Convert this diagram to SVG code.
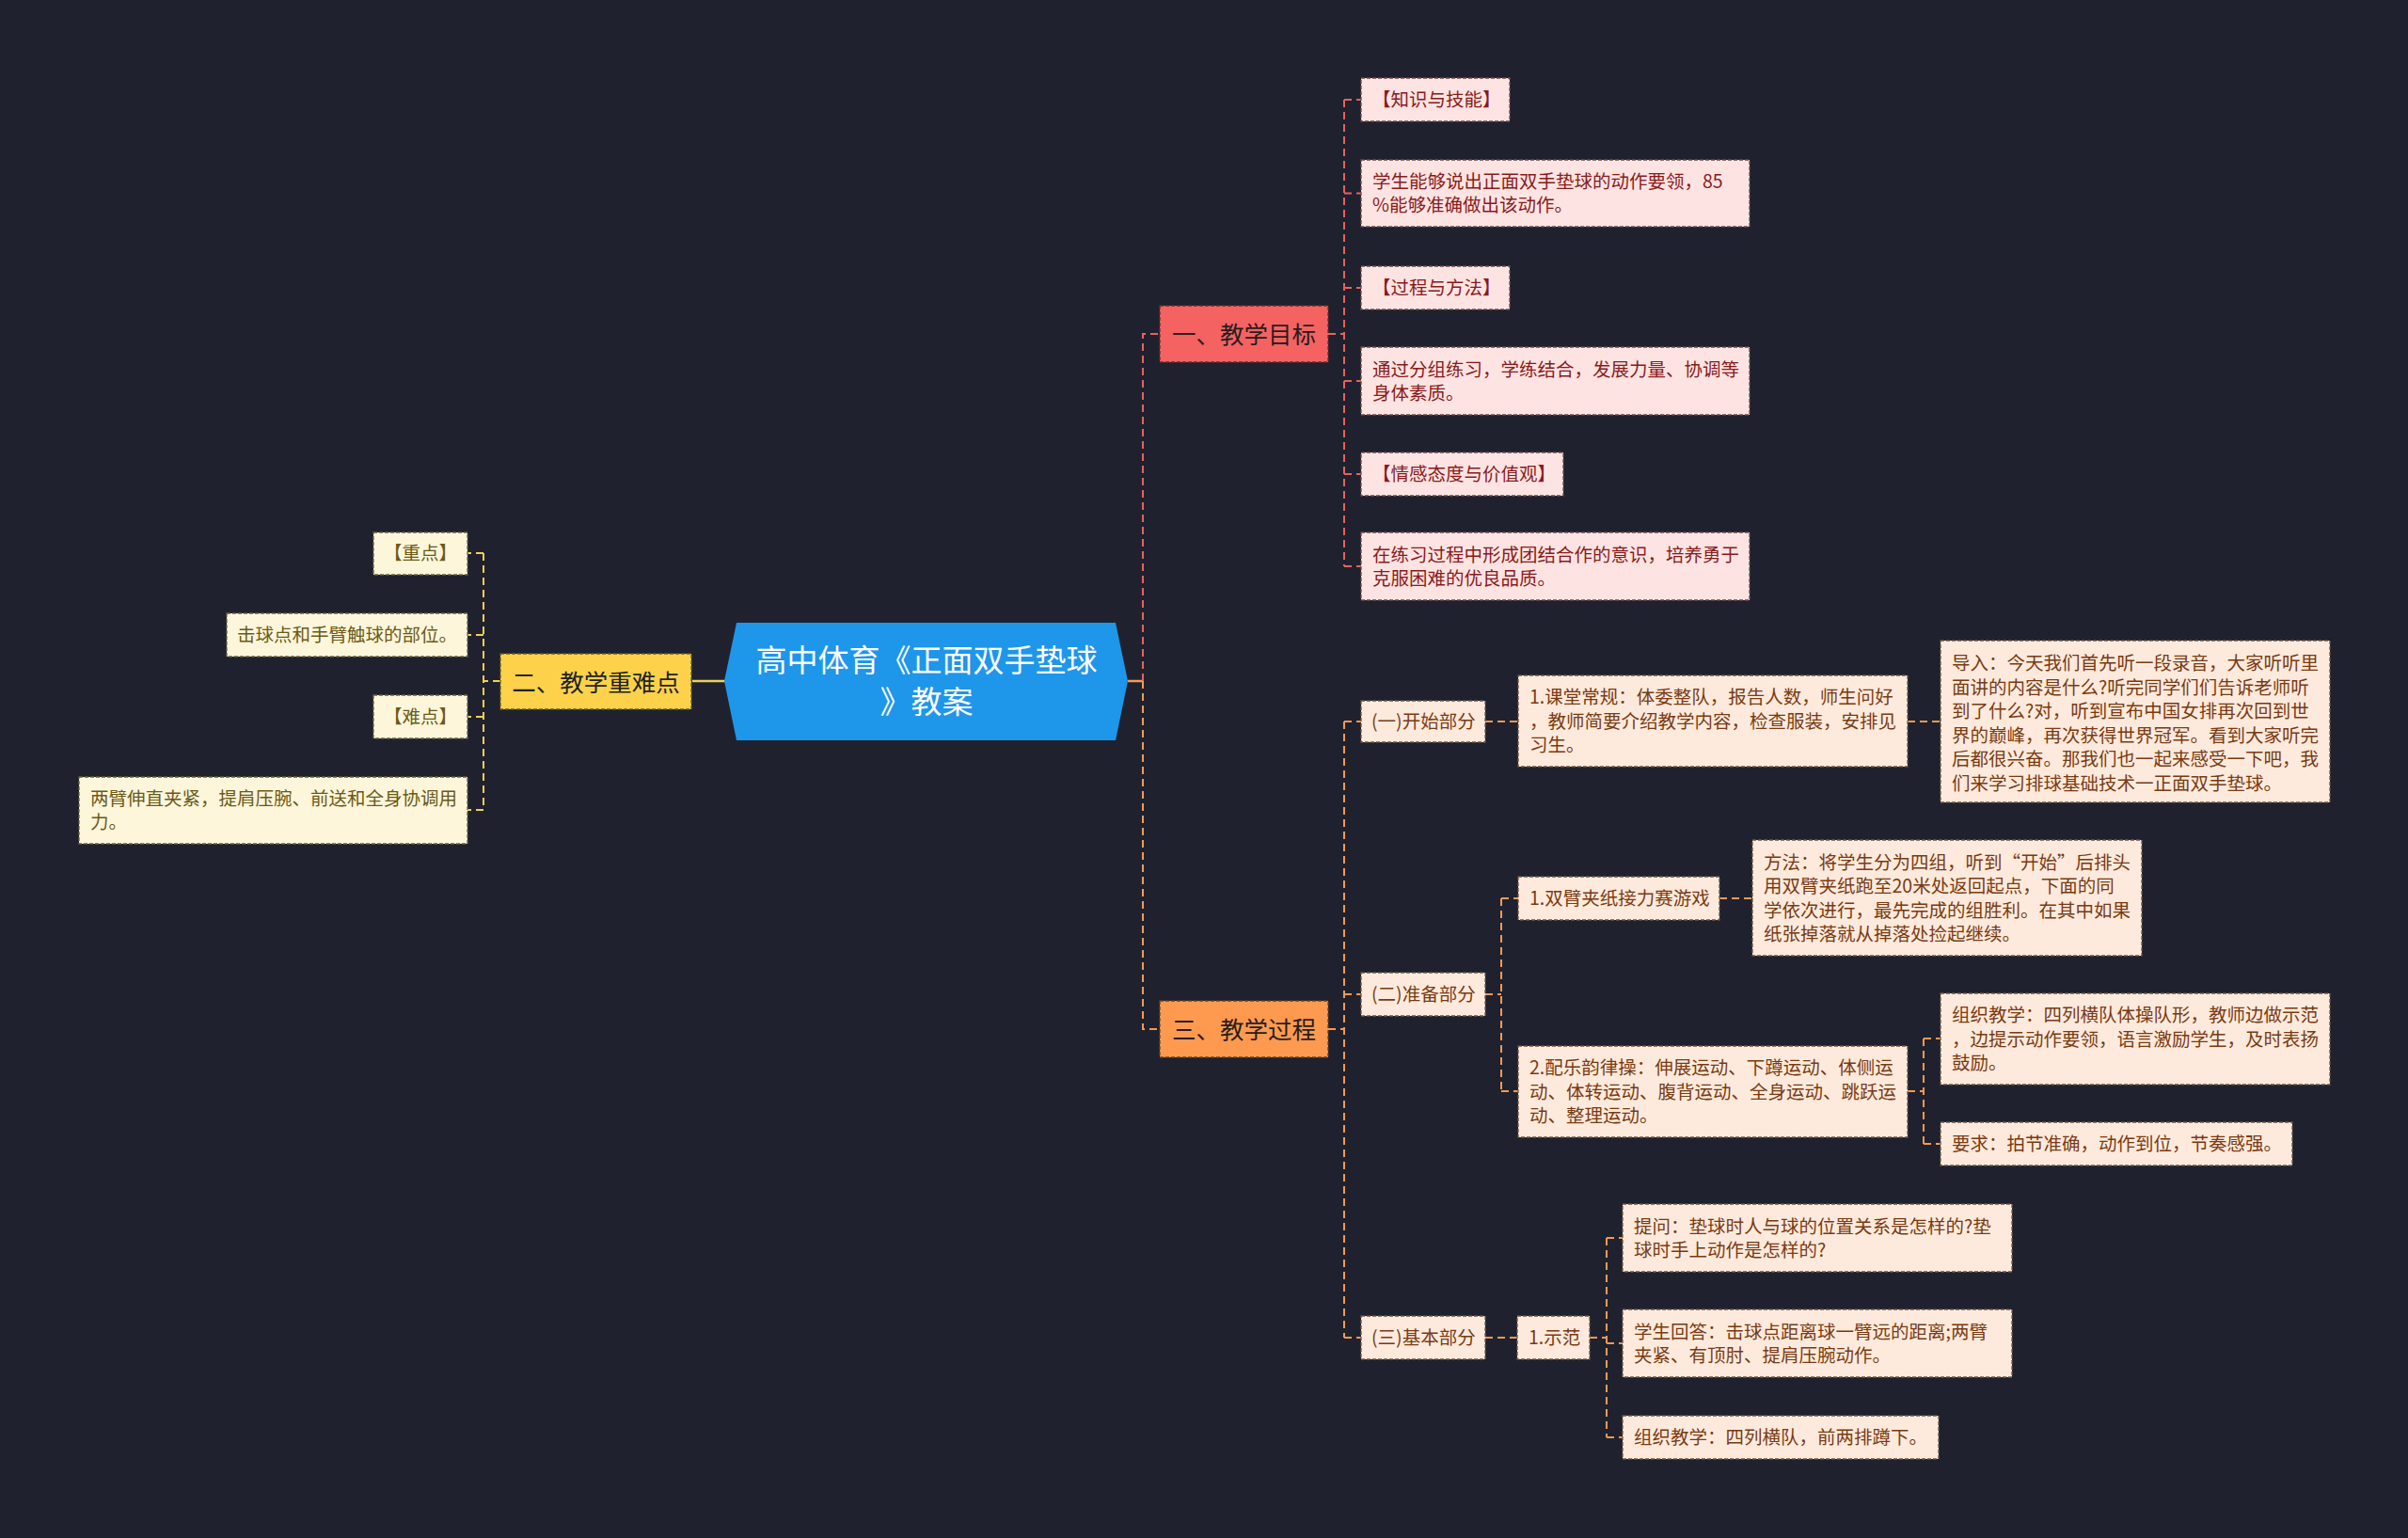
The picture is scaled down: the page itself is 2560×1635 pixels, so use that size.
<svg xmlns="http://www.w3.org/2000/svg" width="2560" height="1635" viewBox="0 0 2560 1635">
<style>
text{font-family:"Noto Sans CJK SC","Noto Sans",sans-serif;}
.t{font-size:19.5px;dominant-baseline:central;transform:translateY(-1.5px);}
.main{font-size:25.5px;dominant-baseline:central;text-anchor:middle;fill:#2a1c1c;transform:translateY(-1.5px);}
.box{stroke-width:1.3;stroke-dasharray:4 2;}
.pink{fill:#fde4e3;stroke:#6e4a4a;}
.peach{fill:#fdeadc;stroke:#6e5442;}
.cream{fill:#fdf6db;stroke:#6a6040;}
.tr{fill:#8a1a1a;}
.to{fill:#7a3a12;}
.ty{fill:#6b5a16;}
.c{fill:none;stroke-width:2;stroke-dasharray:8 5;}
.cr{stroke:#e8615f;}
.co{stroke:#f39a55;}
.cy{stroke:#f2cf55;}
</style>
<rect x="0" y="0" width="2560" height="1635" fill="#1f222e"/>

<g id="connectors">
  <line x1="1199" y1="724" x2="1215" y2="724" stroke="#f39a55" stroke-width="2.5"/>
  <line x1="736" y1="724" x2="771" y2="724" stroke="#f2cf55" stroke-width="2.5"/>
  <path class="c cr" d="M1215,724 V355 H1233"/>
  <path class="c co" d="M1215,724 V1094 H1233"/>
  <path class="c cr" d="M1412,355 H1429"/>
  <path class="c cr" d="M1429,106 V602"/>
  <path class="c cr" d="M1429,106 H1447 M1429,205.5 H1447 M1429,306 H1447 M1429,405 H1447 M1429,504 H1447 M1429,602 H1447"/>
  <path class="c cy" d="M532,724 H514"/>
  <path class="c cy" d="M514,588 V861"/>
  <path class="c cy" d="M514,588 H497 M514,675 H497 M514,762 H497 M514,861 H497"/>
  <path class="c co" d="M1412,1094 H1429"/>
  <path class="c co" d="M1429,767 V1422"/>
  <path class="c co" d="M1429,767 H1447 M1429,1057 H1447 M1429,1422 H1447"/>
  <path class="c co" d="M1579,767 H1614"/>
  <path class="c co" d="M2028,767 H2063"/>
  <path class="c co" d="M1579,1057 H1596"/>
  <path class="c co" d="M1596,955 V1160"/>
  <path class="c co" d="M1596,955 H1614 M1596,1160 H1614"/>
  <path class="c co" d="M1828,955 H1863"/>
  <path class="c co" d="M2028,1160 H2045"/>
  <path class="c co" d="M2045,1104 V1216"/>
  <path class="c co" d="M2045,1104 H2063 M2045,1216 H2063"/>
  <path class="c co" d="M1579,1422 H1613"/>
  <path class="c co" d="M1690,1422 H1708"/>
  <path class="c co" d="M1708,1316 V1528"/>
  <path class="c co" d="M1708,1316 H1725 M1708,1428 H1725 M1708,1528 H1725"/>
</g>

<g id="root">
  <polygon points="783,662 1186,662 1199,724 1186,787 783,787 770,724" fill="#1e96ea"/>
  <text x="985" y="700" font-size="33" fill="#ffffff" text-anchor="middle" dominant-baseline="central">高中体育《正面双手垫球</text>
  <text x="985" y="744" font-size="33" fill="#ffffff" text-anchor="middle" dominant-baseline="central">》教案</text>
</g>

<g id="n-goal">
  <rect x="1233" y="325" width="179" height="60" fill="#f56262" stroke="#6a2a2a" class="box"/>
  <text class="main" x="1322.5" y="355">一、教学目标</text>
</g>
<g id="n-key">
  <rect x="532" y="695" width="203" height="59" fill="#fdd24a" stroke="#6a5a20" class="box"/>
  <text class="main" x="633.5" y="724.5" style="fill:#222">二、教学重难点</text>
</g>
<g id="n-process">
  <rect x="1233" y="1064" width="179" height="60" fill="#fd9a50" stroke="#6a4020" class="box"/>
  <text class="main" x="1322.5" y="1094">三、教学过程</text>
</g>

<g id="g1">
  <rect class="box pink" x="1447" y="83" width="158" height="46"/>
  <text class="t tr" x="1459" y="106">【知识与技能】</text>
</g>
<g id="g2">
  <rect class="box pink" x="1447" y="170" width="413" height="71"/>
  <text class="t tr" x="1459" y="193">学生能够说出正面双手垫球的动作要领，85</text>
  <text class="t tr" x="1459" y="218">%能够准确做出该动作。</text>
</g>
<g id="g3">
  <rect class="box pink" x="1447" y="283" width="158" height="46"/>
  <text class="t tr" x="1459" y="306">【过程与方法】</text>
</g>
<g id="g4">
  <rect class="box pink" x="1447" y="369" width="413" height="72"/>
  <text class="t tr" x="1459" y="393">通过分组练习，学练结合，发展力量、协调等</text>
  <text class="t tr" x="1459" y="418">身体素质。</text>
</g>
<g id="g5">
  <rect class="box pink" x="1447" y="481" width="215" height="46"/>
  <text class="t tr" x="1459" y="504">【情感态度与价值观】</text>
</g>
<g id="g6">
  <rect class="box pink" x="1447" y="566" width="413" height="72"/>
  <text class="t tr" x="1459" y="590">在练习过程中形成团结合作的意识，培养勇于</text>
  <text class="t tr" x="1459" y="615">克服困难的优良品质。</text>
</g>

<g id="k1">
  <rect class="box cream" x="397" y="566" width="100" height="45"/>
  <text class="t ty" x="408" y="588">【重点】</text>
</g>
<g id="k2">
  <rect class="box cream" x="241" y="652" width="256" height="46"/>
  <text class="t ty" x="252" y="675">击球点和手臂触球的部位。</text>
</g>
<g id="k3">
  <rect class="box cream" x="397" y="739" width="100" height="46"/>
  <text class="t ty" x="408" y="762">【难点】</text>
</g>
<g id="k4">
  <rect class="box cream" x="84" y="826" width="413" height="71"/>
  <text class="t ty" x="96" y="849">两臂伸直夹紧，提肩压腕、前送和全身协调用</text>
  <text class="t ty" x="96" y="874">力。</text>
</g>

<g id="p1">
  <rect class="box peach" x="1447" y="745" width="132" height="44"/>
  <text class="t to" x="1458" y="767">(一)开始部分</text>
</g>
<g id="p2">
  <rect class="box peach" x="1447" y="1034" width="132" height="46"/>
  <text class="t to" x="1458" y="1057">(二)准备部分</text>
</g>
<g id="p3">
  <rect class="box peach" x="1447" y="1399" width="132" height="46"/>
  <text class="t to" x="1458" y="1422">(三)基本部分</text>
</g>
<g id="q1">
  <rect class="box peach" x="1614" y="718" width="414" height="97"/>
  <text class="t to" x="1626" y="741">1.课堂常规：体委整队，报告人数，师生问好</text>
  <text class="t to" x="1626" y="766.5">，教师简要介绍教学内容，检查服装，安排见</text>
  <text class="t to" x="1626" y="792">习生。</text>
</g>
<g id="q2">
  <rect class="box peach" x="2063" y="681" width="414" height="172"/>
  <text class="t to" x="2075" y="705">导入：今天我们首先听一段录音，大家听听里</text>
  <text class="t to" x="2075" y="730.5">面讲的内容是什么?听完同学们们告诉老师听</text>
  <text class="t to" x="2075" y="756">到了什么?对，听到宣布中国女排再次回到世</text>
  <text class="t to" x="2075" y="781.5">界的巅峰，再次获得世界冠军。看到大家听完</text>
  <text class="t to" x="2075" y="807">后都很兴奋。那我们也一起来感受一下吧，我</text>
  <text class="t to" x="2075" y="832.5">们来学习排球基础技术一正面双手垫球。</text>
</g>
<g id="q3">
  <rect class="box peach" x="1614" y="932" width="214" height="46"/>
  <text class="t to" x="1626" y="955">1.双臂夹纸接力赛游戏</text>
</g>
<g id="q4">
  <rect class="box peach" x="1863" y="893" width="414" height="123"/>
  <text class="t to" x="1875" y="916.5">方法：将学生分为四组，听到“开始”后排头</text>
  <text class="t to" x="1875" y="942">用双臂夹纸跑至20米处返回起点，下面的同</text>
  <text class="t to" x="1875" y="967.5">学依次进行，最先完成的组胜利。在其中如果</text>
  <text class="t to" x="1875" y="993">纸张掉落就从掉落处捡起继续。</text>
</g>
<g id="q5">
  <rect class="box peach" x="1614" y="1112" width="414" height="97"/>
  <text class="t to" x="1626" y="1135">2.配乐韵律操：伸展运动、下蹲运动、体侧运</text>
  <text class="t to" x="1626" y="1160.5">动、体转运动、腹背运动、全身运动、跳跃运</text>
  <text class="t to" x="1626" y="1186">动、整理运动。</text>
</g>
<g id="q6">
  <rect class="box peach" x="2063" y="1056" width="414" height="97"/>
  <text class="t to" x="2075" y="1079">组织教学：四列横队体操队形，教师边做示范</text>
  <text class="t to" x="2075" y="1104.5">，边提示动作要领，语言激励学生，及时表扬</text>
  <text class="t to" x="2075" y="1130">鼓励。</text>
</g>
<g id="q7">
  <rect class="box peach" x="2063" y="1193" width="374" height="46"/>
  <text class="t to" x="2075" y="1216">要求：拍节准确，动作到位，节奏感强。</text>
</g>
<g id="q8">
  <rect class="box peach" x="1613" y="1399" width="77" height="46"/>
  <text class="t to" x="1625" y="1422">1.示范</text>
</g>
<g id="q9">
  <rect class="box peach" x="1725" y="1280" width="414" height="72"/>
  <text class="t to" x="1737" y="1303.5">提问：垫球时人与球的位置关系是怎样的?垫</text>
  <text class="t to" x="1737" y="1329">球时手上动作是怎样的?</text>
</g>
<g id="q10">
  <rect class="box peach" x="1725" y="1392" width="414" height="72"/>
  <text class="t to" x="1737" y="1415.5">学生回答：击球点距离球一臂远的距离;两臂</text>
  <text class="t to" x="1737" y="1441">夹紧、有顶肘、提肩压腕动作。</text>
</g>
<g id="q11">
  <rect class="box peach" x="1725" y="1505" width="336" height="46"/>
  <text class="t to" x="1737" y="1528">组织教学：四列横队，前两排蹲下。</text>
</g>
</svg>
